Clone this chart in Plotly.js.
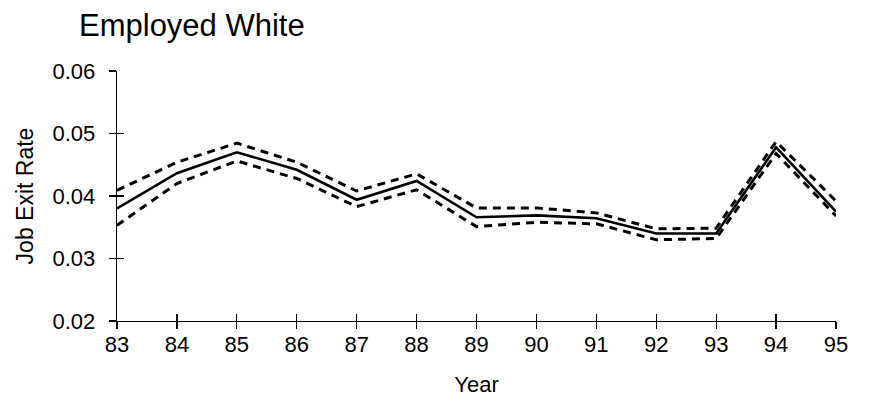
<!DOCTYPE html>
<html>
<head>
<meta charset="utf-8">
<script src="https://cdn.plot.ly/plotly-3.0.1.min.js"></script>
<style>html,body{margin:0;padding:0;background:#fff;}#chart{width:874px;height:414px;}</style>
</head>
<body>
<div id="chart"></div>
<script>
var years = [83, 84, 85, 86, 87, 88, 89, 90, 91, 92, 93, 94, 95];
var rate  = [0.0380, 0.04365, 0.0470, 0.0442, 0.0394, 0.0424, 0.0366, 0.0369, 0.03645, 0.0340, 0.0340, 0.0478, 0.0375];
var upper = [0.0409, 0.0454, 0.04845, 0.0454, 0.0408, 0.04355, 0.0381, 0.0381, 0.0373, 0.03475, 0.03485, 0.0487, 0.0392];
var lower = [0.0353, 0.0420, 0.0456, 0.0428, 0.0383, 0.0410, 0.0351, 0.0358, 0.03555, 0.0330, 0.0332, 0.0468, 0.0368];
var yTicks = [0.02, 0.03, 0.04, 0.05, 0.06];
var yTickLabels = ['0.02', '0.03', '0.04', '0.05', '0.06'];
var xTickLabels = ['83','84','85','86','87','88','89','90','91','92','93','94','95'];

var FONT = 'Liberation Sans, Arial, sans-serif';

var traces = [
  {x: years, y: upper, mode: 'lines', line: {color: '#000', width: 3, dash: '8px,6px'}, hoverinfo: 'skip'},
  {x: years, y: lower, mode: 'lines', line: {color: '#000', width: 3, dash: '8px,6px'}, hoverinfo: 'skip'},
  {x: years, y: rate, mode: 'lines', line: {color: '#000', width: 2.6}, hoverinfo: 'skip'},
  {x: [years[0]], y: [yTicks[0]], xaxis: 'x2', yaxis: 'y2', mode: 'markers', marker: {opacity: 0}, hoverinfo: 'skip'}
];

var layout = {
  width: 874, height: 414,
  margin: {l: 117, r: 38, t: 71, b: 93},
  paper_bgcolor: '#fff', plot_bgcolor: '#fff',
  showlegend: false,
  font: {family: FONT, color: '#000'},
  title: {
    text: 'Employed White',
    font: {family: FONT, size: 31, color: '#000'},
    xref: 'container', x: 79/874, xanchor: 'left',
    yref: 'container', y: 1 - 14/414, yanchor: 'top'
  },
  xaxis: {
    range: [years[0], years[years.length-1]],
    tickvals: years, ticktext: xTickLabels,
    showgrid: false, zeroline: false,
    showline: true, linecolor: '#000', linewidth: 1.3,
    ticks: 'outside', ticklen: 7, tickwidth: 1.3, tickcolor: '#000',
    tickfont: {family: FONT, size: 22, color: '#000'},
    ticklabelstandoff: -4,
    title: {text: 'Year', font: {family: FONT, size: 22, color: '#000'}, standoff: 21},
    automargin: false
  },
  yaxis: {
    range: [yTicks[0], yTicks[yTicks.length-1]],
    tickvals: yTicks, ticktext: yTickLabels,
    showgrid: false, zeroline: false,
    showline: true, linecolor: '#000', linewidth: 1.3,
    ticks: 'outside', ticklen: 7, tickwidth: 1.3, tickcolor: '#000',
    tickfont: {family: FONT, size: 22, color: '#000'},
    ticklabelstandoff: 9,
    title: {text: 'Job Exit Rate', font: {family: FONT, size: 23, color: '#000'}, standoff: 12},
    automargin: false
  },
  xaxis2: {
    overlaying: 'x', anchor: 'y2', side: 'bottom',
    range: [years[0], years[years.length-1]],
    tickvals: years, showticklabels: false,
    showgrid: false, zeroline: false, showline: false,
    ticks: 'inside', ticklen: 7, tickwidth: 1.3, tickcolor: '#000'
  },
  yaxis2: {
    overlaying: 'y', anchor: 'x2', side: 'left',
    range: [yTicks[0], yTicks[yTicks.length-1]],
    tickvals: yTicks, showticklabels: false,
    showgrid: false, zeroline: false, showline: false,
    ticks: 'inside', ticklen: 7, tickwidth: 1.3, tickcolor: '#000'
  }
};

Plotly.newPlot('chart', traces, layout, {staticPlot: true, displayModeBar: false});
</script>
</body>
</html>
